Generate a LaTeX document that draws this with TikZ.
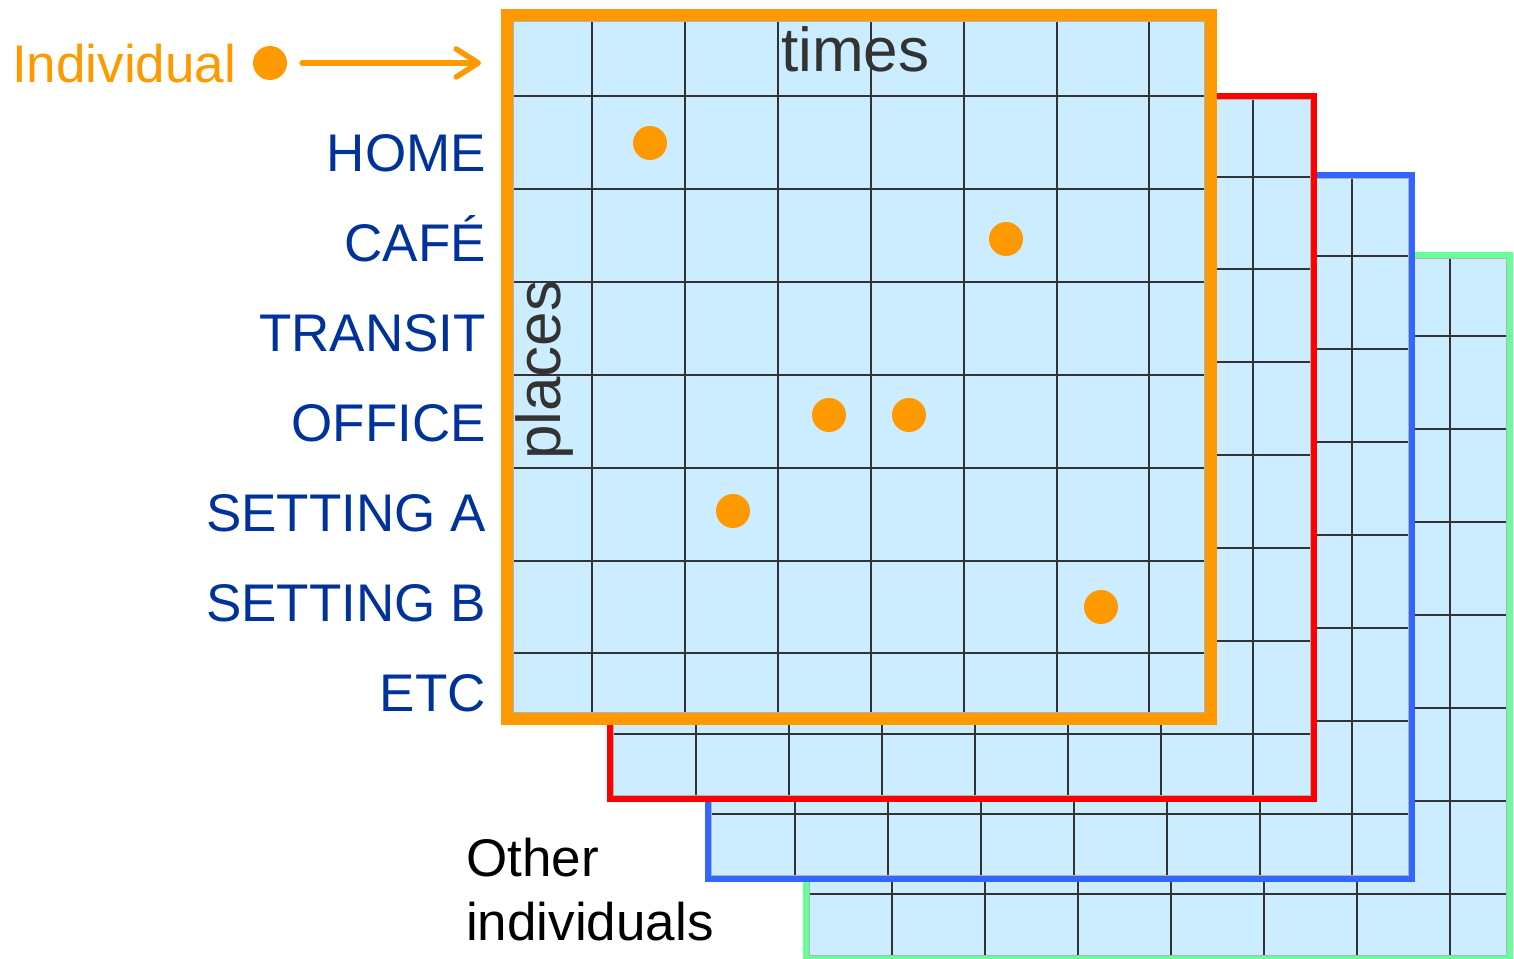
\documentclass[tikz,border=0pt]{standalone}
\usepackage{fontspec}
\setmainfont{Liberation Sans}
\usetikzlibrary{arrows.meta}
\definecolor{cellfill}{RGB}{204,236,255}
\definecolor{indorange}{HTML}{FF9900}
\definecolor{framered}{HTML}{FF0000}
\definecolor{frameblue}{HTML}{3366FF}
\definecolor{framegreen}{HTML}{66FF99}
\definecolor{labblue}{HTML}{003399}
\definecolor{darktext}{HTML}{333333}
\definecolor{gridcol}{HTML}{333333}
\tikzset{
  gridline/.style={draw=gridcol, line width=2pt},
  innerrim/.style={draw=black!30, line width=1pt},
  dotmark/.style={circle, fill=indorange, inner sep=0pt, minimum size=34pt},
  placelab/.style={anchor=base east, inner sep=0pt, text=labblue, font=\fontsize{53}{60}\selectfont},
  axislab/.style={inner sep=0pt, text=darktext, font=\fontsize{62}{70}\selectfont},
  indarrow/.style={draw=indorange, line width=5.5pt, line cap=round,
    -{Straight Barb[length=22pt,width=28pt,line cap=round,line join=round]}}
}
\newcommand{\gridlayer}[5]{%
  \begin{scope}[shift={(#1,#2)}]
    \fill[cellfill] (0,0) rectangle (704,703.5);
    \begin{scope}
      \clip (0,0) rectangle (704,703.5);
      \foreach \k in {0,...,6} {
        \draw[gridline] ({#5+92.9*\k},0) -- ++(0,703.5);
        \draw[gridline] (0,{81+92.9*\k}) -- ++(704,0);
      }
    \end{scope}
    \draw[innerrim] ({#4/2+0.5},{#4/2+0.5}) rectangle ({704-#4/2-0.5},{703.5-#4/2-0.5});
    \draw[draw=#3, line width=#4pt] (0,0) rectangle (704,703.5);
  \end{scope}}
\begin{document}
\begin{tikzpicture}[x=1pt,y=-1pt]
\useasboundingbox (0,0) rectangle (1514,958);
% layers, back to front
\gridlayer{806.3}{255.3}{framegreen}{6}{86}
\gridlayer{708.3}{175.3}{frameblue}{6}{86.7}
\gridlayer{609.5}{95.5}{framered}{6}{86.5}
\gridlayer{507}{15}{indorange}{12}{85}
% axis labels
\node[axislab, anchor=base west] (times) at (781,71.5) {times};
\node[axislab, anchor=base west, rotate=90] (places) at (560,460) {places};
% individual legend
\node[anchor=base west, inner sep=0pt, text=indorange, font=\fontsize{53}{60}\selectfont] (indlabel) at (12,82) {Individual};
\node[dotmark] (inddot) at (270,63) {};
\coordinate (arrowend) at (481,63);
\draw[indarrow, shorten <=15pt] (inddot) -- (arrowend);
% place labels
\node[placelab] (home) at (486,171) {HOME};
\node[placelab] (cafe) at (486,261) {CAFÉ};
\node[placelab] (transit) at (486,351) {TRANSIT};
\node[placelab] (office) at (486,441) {OFFICE};
\node[placelab] (seta) at (486,531) {SETTING A};
\node[placelab] (setb) at (486,621) {SETTING B};
\node[placelab] (etc) at (486,711) {ETC};
% visits
\node[dotmark] (v1) at (650,143) {};
\node[dotmark] (v2) at (1006,239) {};
\node[dotmark] (v3) at (829,415) {};
\node[dotmark] (v4) at (909,415) {};
\node[dotmark] (v5) at (733,511) {};
\node[dotmark] (v6) at (1101,607) {};
% other individuals
\node[anchor=base west, inner sep=0pt, align=left, text=black, font=\fontsize{53}{64}\selectfont] (others) at (466,940) {Other\\individuals};
\end{tikzpicture}
\end{document}
